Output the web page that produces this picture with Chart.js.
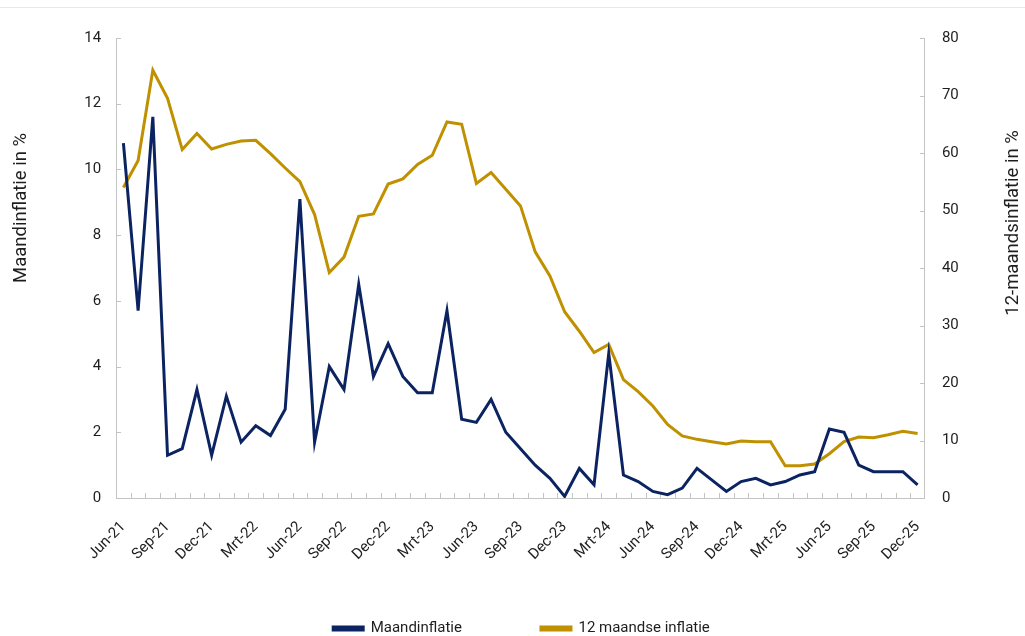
<!DOCTYPE html>
<html>
<head>
<meta charset="utf-8">
<script src="https://cdn.jsdelivr.net/npm/chart.js@4"></script>
<style>
  html, body { margin: 0; padding: 0; background: #fff; }
  #wrap { position: relative; width: 1025px; height: 636px; }
  #topline { position: absolute; left: 0; top: 7px; width: 1025px; height: 0; border-top: 1px solid #e8e8e8; }
  canvas { position: absolute; left: 0; top: 0; }
</style>
</head>
<body>
<div id="wrap">
  <div id="topline"></div>
  <canvas id="c" width="1025" height="636"></canvas>
</div>
<script>
const months = [
  'Jun-21','Jul-21','Aug-21','Sep-21','Okt-21','Nov-21','Dec-21',
  'Jan-22','Feb-22','Mrt-22','Apr-22','Mei-22','Jun-22','Jul-22','Aug-22','Sep-22','Okt-22','Nov-22','Dec-22',
  'Jan-23','Feb-23','Mrt-23','Apr-23','Mei-23','Jun-23','Jul-23','Aug-23','Sep-23','Okt-23','Nov-23','Dec-23',
  'Jan-24','Feb-24','Mrt-24','Apr-24','Mei-24','Jun-24','Jul-24','Aug-24','Sep-24','Okt-24','Nov-24','Dec-24',
  'Jan-25','Feb-25','Mrt-25','Apr-25','Mei-25','Jun-25','Jul-25','Aug-25','Sep-25','Okt-25','Nov-25','Dec-25'
];
const maandinflatie = [
  10.8, 5.7, 11.6, 1.3, 1.5, 3.3, 1.3,
  3.1, 1.7, 2.2, 1.9, 2.7, 9.1, 1.7, 4.0, 3.3, 6.5, 3.7, 4.7,
  3.7, 3.2, 3.2, 5.7, 2.4, 2.3, 3.0, 2.0, 1.5, 1.0, 0.6, 0.05,
  0.9, 0.4, 4.4, 0.7, 0.5, 0.2, 0.1, 0.3, 0.9, 0.55, 0.2, 0.5,
  0.6, 0.4, 0.5, 0.7, 0.8, 2.1, 2.0, 1.0, 0.8, 0.8, 0.8, 0.4
];
const twaalfMaands = [
  54.0, 58.7, 74.4, 69.5, 60.6, 63.4, 60.7,
  61.5, 62.1, 62.2, 59.9, 57.4, 55.0, 49.3, 39.2, 41.9, 49.0, 49.4, 54.6,
  55.5, 58.0, 59.6, 65.4, 65.0, 54.7, 56.6, 53.7, 50.8, 42.8, 38.6, 32.4,
  29.0, 25.3, 26.7, 20.6, 18.5, 16.0, 12.8, 10.8, 10.2, 9.8, 9.4, 9.9,
  9.8, 9.8, 5.6, 5.6, 5.9, 7.7, 9.8, 10.6, 10.5, 11.0, 11.6, 11.2
];
const seriesNames = ['Maandinflatie', '12 maandse inflatie'];
const leftTitle = 'Maandinflatie in %';
const rightTitle = '12-maandsinflatie in %';

const NAVY = '#0b2461';
const GOLD = '#bf9000';
const AXIS = '#c4c4c4';
const TXT = '#1e1e1e';
const FONT = 'Roboto, "Liberation Sans", Arial, sans-serif';
const TITLE_SIZE = 18.5;
const LEFT_TITLE_PAD = { top: 10, bottom: 37 };
const RIGHT_TITLE_PAD = { top: 19, bottom: 26 };

// small inward tick marks placed from the scales
const innerTicks = {
  id: 'innerTicks',
  beforeDatasetsDraw(chart) {
    const ctx = chart.ctx;
    const x = chart.scales.x, yl = chart.scales.y, yr = chart.scales.y1;
    const ca = chart.chartArea;
    ctx.save();
    ctx.strokeStyle = AXIS;
    ctx.lineWidth = 1;
    ctx.beginPath();
    const n = months.length;
    for (let i = 0; i < n - 1; i++) {
      const px = Math.round((x.getPixelForValue(i) + x.getPixelForValue(i + 1)) / 2) + 0.5;
      ctx.moveTo(px, ca.bottom);
      ctx.lineTo(px, ca.bottom - 5);
    }
    yl.ticks.forEach(t => {
      const py = Math.round(yl.getPixelForValue(t.value)) + 0.5;
      ctx.moveTo(ca.left, py);
      ctx.lineTo(ca.left + 5, py);
    });
    yr.ticks.forEach(t => {
      const py = Math.round(yr.getPixelForValue(t.value)) + 0.5;
      ctx.moveTo(ca.right, py);
      ctx.lineTo(ca.right - 5, py);
    });
    ctx.stroke();
    ctx.restore();
  }
};

// shift axis titles upward and make the right title read bottom-to-top
const titleShift = {
  id: 'titleShift',
  beforeDraw(chart) {
    [['y', -60, false, LEFT_TITLE_PAD], ['y1', -45, true, RIGHT_TITLE_PAD]].forEach(([id, dy, flip, pad]) => {
      const s = chart.scales[id];
      if (!s || s.__patched) return;
      const orig = s.drawTitle;
      s.drawTitle = function() {
        const ctx = this.ctx;
        const off = TITLE_SIZE * 1.2 / 2 + pad.top;
        const cx = this.position === 'left' ? this.left + off : this.right - off;
        const cy = (this.top + this.bottom) / 2;
        ctx.save();
        ctx.translate(cx, cy + dy);
        if (flip) ctx.rotate(Math.PI);
        ctx.translate(-cx, -cy);
        orig.call(this);
        ctx.restore();
      };
      s.__patched = true;
    });
  }
};

new Chart(document.getElementById('c'), {
  type: 'line',
  data: {
    labels: months,
    datasets: [
      {
        label: seriesNames[0],
        data: maandinflatie,
        borderColor: NAVY,
        backgroundColor: NAVY,
        borderWidth: 3,
        pointRadius: 0,
        tension: 0,
        yAxisID: 'y'
      },
      {
        label: seriesNames[1],
        data: twaalfMaands,
        borderColor: GOLD,
        backgroundColor: GOLD,
        borderWidth: 3,
        pointRadius: 0,
        tension: 0,
        yAxisID: 'y1'
      }
    ]
  },
  options: {
    responsive: false,
    animation: false,
    devicePixelRatio: 1,
    layout: { padding: { left: 0, right: -18, top: 38, bottom: -10 } },
    plugins: {
      legend: {
        position: 'bottom',
        title: { display: true, text: '', font: { size: 10 }, padding: { top: -38, bottom: 0 } },
        labels: {
          boxWidth: 30,
          boxHeight: 3,
          padding: 79,
          color: TXT,
          font: { family: FONT, size: 15 }
        }
      },
      tooltip: { enabled: false }
    },
    scales: {
      x: {
        offset: true,
        grid: { display: false, drawTicks: false, offset: true },
        border: { display: true, color: AXIS, width: 1 },
        afterFit: function(scale) { scale.height = 70; },
        ticks: {
          autoSkip: false,
          maxRotation: 45,
          minRotation: 45,
          padding: 20,
          color: TXT,
          font: { family: FONT, size: 15 },
          callback: function(v, i) { return i % 3 === 0 ? months[i] : ''; }
        }
      },
      y: {
        position: 'left',
        min: 0, max: 14,
        grid: { display: false, drawTicks: false },
        border: { display: true, color: AXIS, width: 1 },
        ticks: { stepSize: 2, padding: 15, color: TXT, font: { family: FONT, size: 15 } },
        title: {
          display: true, text: leftTitle, color: TXT,
          font: { family: FONT, size: TITLE_SIZE },
          padding: LEFT_TITLE_PAD
        }
      },
      y1: {
        position: 'right',
        min: 0, max: 80,
        grid: { display: false, drawTicks: false },
        border: { display: true, color: AXIS, width: 1 },
        ticks: { stepSize: 10, padding: 17, color: TXT, font: { family: FONT, size: 15 } },
        title: {
          display: true, text: rightTitle, color: TXT,
          font: { family: FONT, size: TITLE_SIZE },
          padding: RIGHT_TITLE_PAD
        }
      }
    }
  },
  plugins: [innerTicks, titleShift]
});
</script>
</body>
</html>
